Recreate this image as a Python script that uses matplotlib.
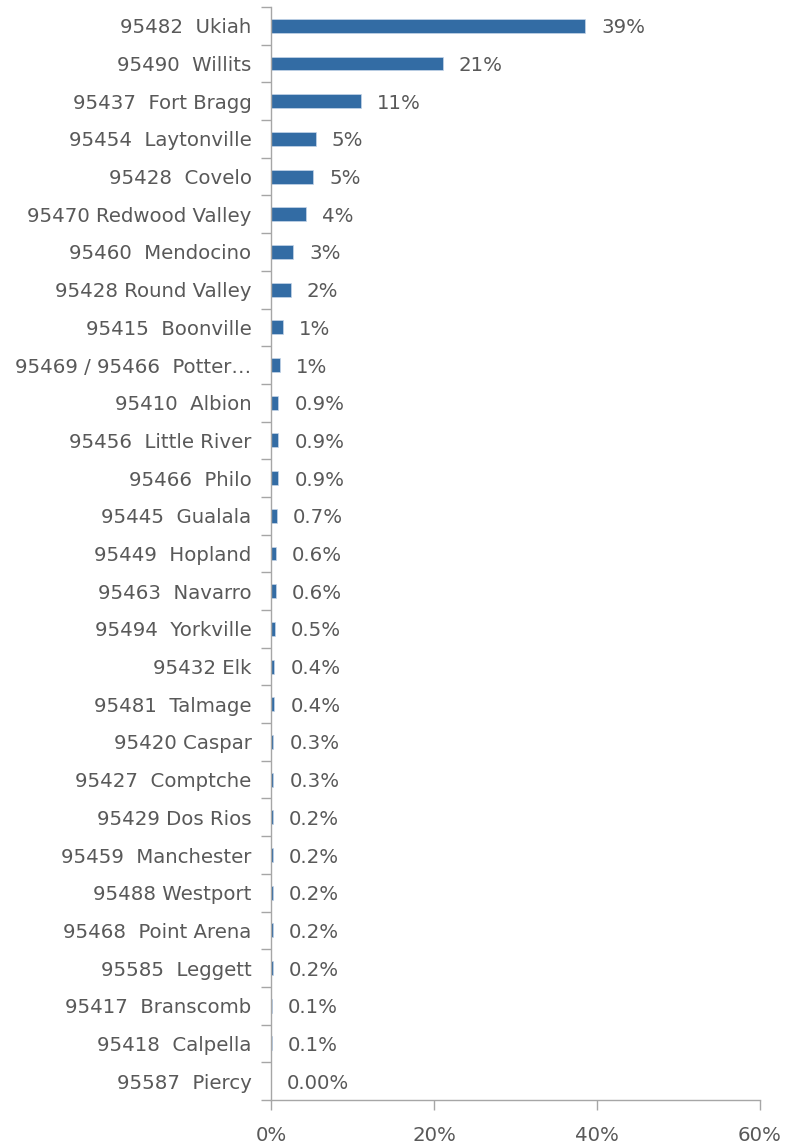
import matplotlib
matplotlib.use("Agg")
import matplotlib.pyplot as plt
from matplotlib.ticker import FixedLocator

categories = [
    "95482  Ukiah", "95490  Willits", "95437  Fort Bragg", "95454  Laytonville",
    "95428  Covelo", "95470 Redwood Valley", "95460  Mendocino", "95428 Round Valley",
    "95415  Boonville", "95469 / 95466  Potter\u2026", "95410  Albion", "95456  Little River",
    "95466  Philo", "95445  Gualala", "95449  Hopland", "95463  Navarro",
    "95494  Yorkville", "95432 Elk", "95481  Talmage", "95420 Caspar",
    "95427  Comptche", "95429 Dos Rios", "95459  Manchester", "95488 Westport",
    "95468  Point Arena", "95585  Leggett", "95417  Branscomb", "95418  Calpella",
    "95587  Piercy",
]
values = [38.6, 21.1, 11.0, 5.5, 5.2, 4.3, 2.7, 2.4, 1.5, 1.1, 0.9, 0.9, 0.9, 0.7,
          0.6, 0.6, 0.5, 0.4, 0.4, 0.3, 0.3, 0.2, 0.2, 0.2, 0.2, 0.2, 0.1, 0.1, 0.0]
value_labels = ["39%", "21%", "11%", "5%", "5%", "4%", "3%", "2%", "1%", "1%",
                "0.9%", "0.9%", "0.9%", "0.7%", "0.6%", "0.6%", "0.5%", "0.4%",
                "0.4%", "0.3%", "0.3%", "0.2%", "0.2%", "0.2%", "0.2%", "0.2%",
                "0.1%", "0.1%", "0.00%"]
x_ticks = [0, 20, 40, 60]
x_tick_labels = ["0%", "20%", "40%", "60%"]

plt.rcParams['font.family'] = ['DejaVu Sans']
text_color = "#595959"
axis_color = "#a6a6a6"
bar_color = "#336ca4"
fs = 14.2

fig = plt.figure(figsize=(7.89, 11.45), dpi=100)
ax = fig.add_axes([0.3435, 0.0393, 0.963 - 0.3435, 0.9939 - 0.0393])

n = len(categories)
ypos = list(range(n))
ax.barh(ypos, values, height=0.37, color=bar_color, edgecolor="#c5d5e8", linewidth=0.5)
ax.set_ylim(n - 0.5, -0.5)
ax.set_xlim(0, 60)

ax.set_yticks(ypos)
ax.set_yticklabels(categories, fontsize=fs, color=text_color)
for lbl in ax.get_yticklabels():
    lbl.set_verticalalignment("center_baseline")
ax.yaxis.set_minor_locator(FixedLocator([i - 0.5 for i in range(n + 1)]))
ax.tick_params(axis='y', which='major', length=0, pad=14)
ax.tick_params(axis='y', which='minor', length=7, color=axis_color, width=1)

ax.set_xticks(x_ticks)
ax.set_xticklabels(x_tick_labels, fontsize=fs, color=text_color)
ax.tick_params(axis='x', length=7, color=axis_color, width=1, pad=12)

for s in ["top", "right"]:
    ax.spines[s].set_visible(False)
for s in ["left", "bottom"]:
    ax.spines[s].set_color(axis_color)
    ax.spines[s].set_linewidth(1)

for y, v, lab in zip(ypos, values, value_labels):
    ax.annotate(lab, xy=(v, y), xytext=(16, 0), textcoords="offset pixels",
                va="center_baseline", ha="left", fontsize=fs, color=text_color)

fig.savefig("out.png", dpi=100)
